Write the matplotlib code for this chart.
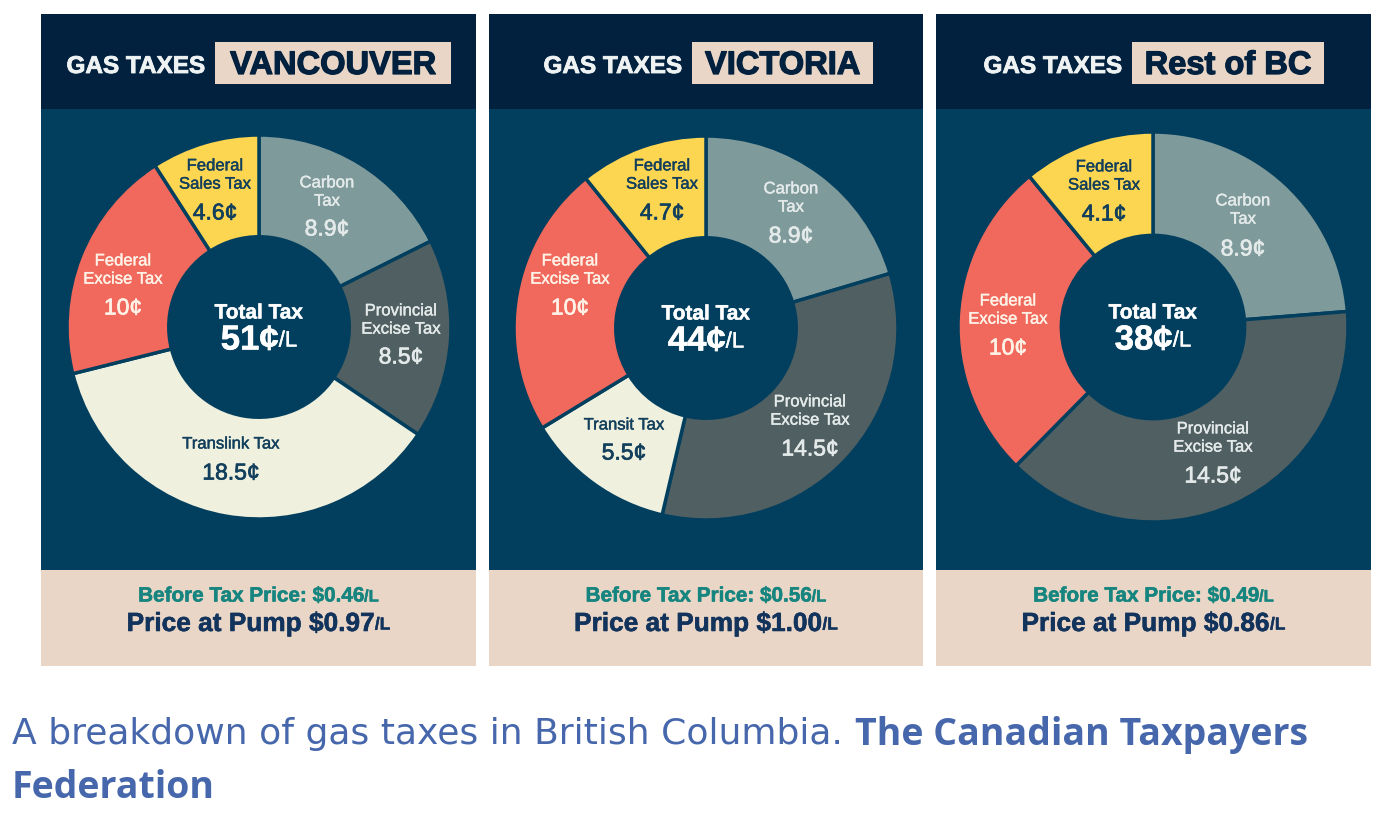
import matplotlib
matplotlib.use("Agg")
import matplotlib.pyplot as plt
from matplotlib.patches import Rectangle
import matplotlib.patheffects as pe

W, H = 1388, 818
plt.rcParams['font.family'] = ['Liberation Sans', 'DejaVu Sans']

cities = ["VANCOUVER", "VICTORIA", "Rest of BC"]
totals = ["51", "44", "38"]
before_tax = ["$0.46", "$0.56", "$0.49"]
at_pump = ["$0.97", "$1.00", "$0.86"]

# clockwise from 12 o'clock
labels_van = ["Carbon\nTax", "Provincial\nExcise Tax", "Translink Tax", "Federal\nExcise Tax", "Federal\nSales Tax"]
values_van = [8.9, 8.5, 18.5, 10, 4.6]
texts_van = ["8.9¢", "8.5¢", "18.5¢", "10¢", "4.6¢"]
labels_vic = ["Carbon\nTax", "Provincial\nExcise Tax", "Transit Tax", "Federal\nExcise Tax", "Federal\nSales Tax"]
values_vic = [8.9, 14.5, 5.5, 10, 4.7]
texts_vic = ["8.9¢", "14.5¢", "5.5¢", "10¢", "4.7¢"]
labels_bc = ["Carbon\nTax", "Provincial\nExcise Tax", "Federal\nExcise Tax", "Federal\nSales Tax"]
values_bc = [8.9, 14.5, 10, 4.1]
texts_bc = ["8.9¢", "14.5¢", "10¢", "4.1¢"]

col_carbon, col_prov, col_trans, col_exc, col_sales = "#7f9a9b", "#505f61", "#eff0dd", "#f0695c", "#fdd651"
colors_van = [col_carbon, col_prov, col_trans, col_exc, col_sales]
colors_vic = colors_van
colors_bc = [col_carbon, col_prov, col_exc, col_sales]
dark_text = "#123f5c"
light_text = "#e4eaea"

NAVY, TEAL, BEIGE = "#02213f", "#023f5e", "#e9d6c6"

fig = plt.figure(figsize=(W / 100, H / 100), dpi=100, facecolor="white")
renderer = fig.canvas.get_renderer()
bg = fig.add_axes([0, 0, 1, 1], zorder=0)
bg.set_xlim(0, W); bg.set_ylim(H, 0); bg.axis("off")
fg = fig.add_axes([0, 0, 1, 1], zorder=5)
fg.set_xlim(0, W); fg.set_ylim(H, 0); fg.axis("off")


def heavy(color, w=0.6):
    return [pe.withStroke(linewidth=w, foreground=color)]


def main_and_unit(cx, y, main, main_size, unit, unit_size, color, unit_weight="bold"):
    """Centre a bold string followed by a smaller unit on cx."""
    a = fg.text(0, y, main, color=color, fontsize=main_size, fontweight="bold", ha="left", va="center",
                path_effects=heavy(color, 0.4))
    b = fg.text(0, y + 1, unit, color=color, fontsize=unit_size, fontweight=unit_weight, ha="left", va="center",
                path_effects=heavy(color, 0.3))
    wa = a.get_window_extent(renderer).width
    wb = b.get_window_extent(renderer).width
    left = cx - (wa + wb) / 2
    a.set_x(left)
    b.set_x(left + wa)


panels = [
    (41, 476, 259, 327, 192, 215, 451, labels_van, values_van, texts_van, colors_van),
    (489, 923, 706, 328, 192, 692, 873, labels_vic, values_vic, texts_vic, colors_vic),
    (936, 1371, 1153, 327, 195, 1132, 1324, labels_bc, values_bc, texts_bc, colors_bc),
]

for i, (x0, x1, cx, cy, R, bx0, bx1, labs, vals, txts, cols) in enumerate(panels):
    mid = (x0 + x1) / 2
    bg.add_patch(Rectangle((x0, 14), x1 - x0, 95, fc=NAVY, ec="none"))
    bg.add_patch(Rectangle((x0, 109), x1 - x0, 461, fc=TEAL, ec="none"))
    bg.add_patch(Rectangle((x0, 570), x1 - x0, 96, fc=BEIGE, ec="none"))
    bg.add_patch(Rectangle((bx0, 42), bx1 - bx0, 42, fc=BEIGE, ec="none"))
    fg.text((bx0 + bx1) / 2, 65.5, cities[i], color=NAVY, fontsize=23.5, fontweight="bold", ha="center", va="center",
            path_effects=heavy(NAVY, 0.9))
    fg.text(bx0 - 10, 66.5, "GAS TAXES", color="#eef2f2", fontsize=17.5, fontweight="bold", ha="right", va="center",
            path_effects=heavy("#eef2f2", 0.6))

    ax = fig.add_axes([(cx - R) / W, 1 - (cy + R) / H, 2 * R / W, 2 * R / H], zorder=2)
    ax.pie(vals, colors=cols, startangle=90, counterclock=False, radius=1,
           wedgeprops=dict(width=0.53, edgecolor=TEAL, linewidth=2.5))
    ax.set_xlim(-1, 1); ax.set_ylim(-1, 1)
    ax.set_aspect("equal"); ax.axis("off")

    fg.text(cx, cy - 14, "Total Tax", color="white", fontsize=15, fontweight="bold", ha="center", va="center",
            path_effects=heavy("white", 0.3))
    main_and_unit(cx, cy + 13, totals[i] + "¢", 25, "/L", 16, "white", "normal")

    main_and_unit(mid, 596, f"Before Tax Price: {before_tax[i]}", 14.9, "/L", 12, "#16857f")
    main_and_unit(mid, 624, f"Price at Pump {at_pump[i]}", 18.9, "/L", 12.5, "#12335c")

# label x, label y, value y for each wedge
anchors = [
    [(327, 192, 229), (401, 320, 357), (231, 444, 473), (123, 270, 308), (215, 175, 213)],
    [(791, 198, 236), (810, 411, 449), (624, 425, 453), (570, 270, 308), (662, 175, 213)],
    [(1243, 210, 249), (1213, 438, 476), (1008, 310, 348), (1104, 176, 214)],
]
for anc, (*_, labs, vals, txts, cols) in zip(anchors, panels):
    for (x, yl, yv), lab, t, c in zip(anc, labs, txts, cols):
        dark = c in (col_trans, col_sales)
        tc = dark_text if dark else light_text
        if c == col_exc:
            tc = "#fff1e6"
        fg.text(x, yl, lab, color=tc, fontsize=12, ha="center", va="center", linespacing=1.27,
                path_effects=heavy(tc, 0.3))
        fg.text(x, yv, t, color=tc, fontsize=16.5, ha="center", va="center", path_effects=heavy(tc, 0.5))

cap = "#4667ab"
fg.text(12, 734, "A breakdown of gas taxes in British Columbia.", color=cap, fontsize=26,
        family=["DejaVu Sans"], ha="left", va="center")
fg.text(855, 735, "The Canadian Taxpayers", color=cap, fontsize=27, fontweight="bold",
        family=["Open Sans", "DejaVu Sans"], ha="left", va="center")
fg.text(12, 788, "Federation", color=cap, fontsize=27, fontweight="bold",
        family=["Open Sans", "DejaVu Sans"], ha="left", va="center")

fig.savefig("out.png", dpi=100, facecolor="white")
